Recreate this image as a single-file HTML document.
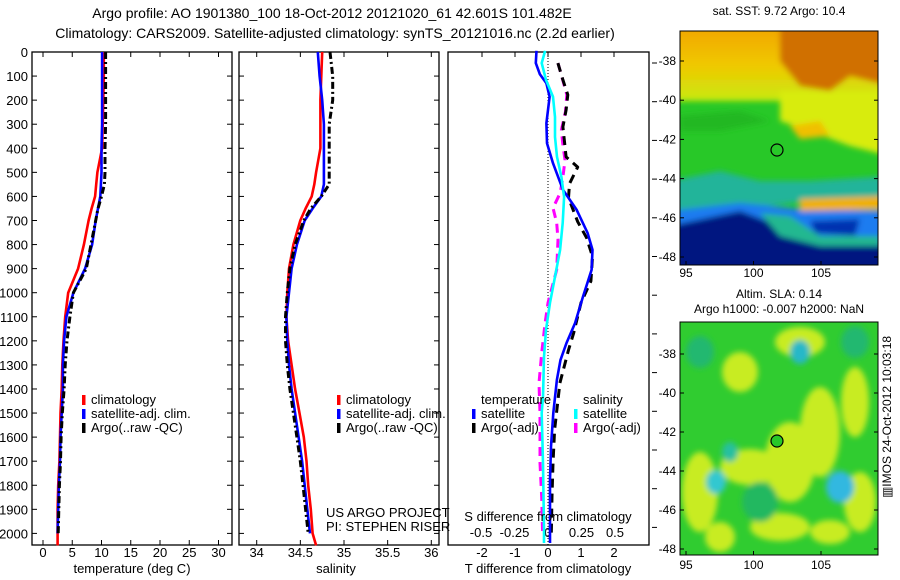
<!DOCTYPE html>
<html><head><meta charset="utf-8"><style>
html,body{margin:0;padding:0;background:#fff;}
svg{display:block;font-family:"Liberation Sans",sans-serif;}
text{font-size:13px;fill:#000;}
</style></head><body>
<svg id="fig" width="900" height="580" viewBox="0 0 900 580" xmlns="http://www.w3.org/2000/svg">
<text x="332" y="18" text-anchor="middle" style="font-size:14px">Argo profile: AO 1901380_100 18-Oct-2012 20121020_61 42.601S 101.482E</text>
<text x="335" y="38" text-anchor="middle" style="font-size:14px">Climatology: CARS2009. Satellite-adjusted climatology: synTS_20121016.nc (2.2d earlier)</text>
<g id="p1"></g>
<g id="p2"></g>
<g id="p3"></g>
<g id="maps">
 <text x="779" y="15" text-anchor="middle" style="font-size:12px">sat. SST: 9.72 Argo: 10.4</text>
 <svg x="680" y="31" width="198" height="234" viewBox="0 0 198 234">
  <defs>
   <filter id="bl" x="-10%" y="-10%" width="120%" height="120%"><feGaussianBlur stdDeviation="3"/></filter>
   <linearGradient id="topg" x1="0" y1="0" x2="0" y2="1"><stop offset="0" stop-color="#f2a000"/><stop offset="0.55" stop-color="#f0c800"/><stop offset="1" stop-color="#c8ea10"/></linearGradient>
  </defs>
  <rect width="198" height="234" fill="#28c828"/>
  <g filter="url(#bl)">
   <rect x="-10" y="-10" width="220" height="80" fill="url(#topg)"/>
   <path d="M100,-10 L210,-10 L210,55 L170,45 L150,60 L120,55 L100,30 Z" fill="#d07000"/>
   <path d="M100,60 L210,60 L210,125 L170,115 L130,100 L100,90 Z" fill="#d8ec10"/>
   <path d="M110,95 L140,90 L150,105 L120,108 Z" fill="#f0c000"/>
   <path d="M0,85 L60,80 L90,90 L40,100 L0,100 Z" fill="#22b820"/>
   <path d="M-10,150 L40,140 L80,150 L130,150 L210,145 L210,172 L130,170 L60,178 L-10,190 Z" fill="#20b49a"/>
   <path d="M-10,180 L60,172 L120,178 L210,180 L210,234 L-10,234 Z" fill="#1c7cf0"/>
   <path d="M120,168 L210,165 L210,178 L120,180 Z" fill="#f0b000"/>
   <path d="M-10,195 L60,180 L100,195 L120,210 L210,215 L210,244 L-10,244 Z" fill="#001480"/>
   <path d="M80,182 L110,185 L140,205 L200,205 L200,215 L140,215 L100,205 Z" fill="#22b890"/>
   <path d="M130,190 L180,188 L175,205 L135,202 Z" fill="#0030b0"/>
  </g>
  <circle cx="97" cy="119" r="6" fill="#28c828" stroke="#000" stroke-width="1.2"/>
 </svg>
 <rect x="680" y="31" width="198" height="234" fill="none" stroke="#000"/>
 <text x="779" y="298" text-anchor="middle" style="font-size:12px">Altim. SLA: 0.14</text>
 <text x="779" y="313" text-anchor="middle" style="font-size:12px">Argo h1000: -0.007 h2000: NaN</text>
 <svg x="680" y="322" width="198" height="233" viewBox="0 0 198 233">
  <rect width="198" height="233" fill="#30cc30"/>
  <g filter="url(#bl)" fill="#c8ec20">
   <ellipse cx="20" cy="170" rx="18" ry="40"/><ellipse cx="70" cy="145" rx="30" ry="18"/>
   <ellipse cx="110" cy="140" rx="25" ry="40"/><ellipse cx="140" cy="110" rx="20" ry="45"/>
   <ellipse cx="175" cy="80" rx="14" ry="35"/><ellipse cx="180" cy="180" rx="16" ry="30"/>
   <ellipse cx="60" cy="50" rx="18" ry="20"/><ellipse cx="120" cy="20" rx="25" ry="15"/>
   <ellipse cx="100" cy="205" rx="30" ry="14"/><ellipse cx="40" cy="215" rx="15" ry="15"/>
   <ellipse cx="150" cy="210" rx="20" ry="12"/>
   <ellipse cx="80" cy="180" rx="18" ry="20" fill="#22b860"/>
   <ellipse cx="120" cy="30" rx="10" ry="12" fill="#28b8c8"/>
   <ellipse cx="50" cy="130" rx="8" ry="10" fill="#28c0a0"/>
   <ellipse cx="36" cy="160" rx="10" ry="12" fill="#30c8d0"/>
   <ellipse cx="160" cy="165" rx="14" ry="16" fill="#30b8e0"/>
   <ellipse cx="175" cy="20" rx="14" ry="16" fill="#22b870"/>
   <ellipse cx="20" cy="30" rx="14" ry="16" fill="#22b870"/>
  </g>
  <circle cx="97" cy="119" r="6" fill="#28c828" stroke="#000" stroke-width="1.2"/>
 </svg>
 <rect x="680" y="322" width="198" height="233" fill="none" stroke="#000"/>
 <text transform="translate(891,417) rotate(-90)" text-anchor="middle" style="font-size:12px">▥IMOS 24-Oct-2012 10:03:18</text>
</g>
</svg>
<script>
// ----- data -----
const depthGrid = [0,100,200,300,400,500,550,600,650,700,800,900,1000,1100,1200,1300,1400,1500,1600,1700,1800,1900,2000,2050];
const climT = [10.4,10.4,10.3,10.2,10.1,9.3,9.1,8.9,8.3,7.8,7.0,6.0,4.3,3.8,3.5,3.3,3.2,3.0,2.9,2.8,2.6,2.5,2.5,2.5];
const satT  = [10.1,10.1,10.1,10.1,10.0,10.0,9.9,9.8,9.4,9.0,8.4,7.2,5.2,4.0,3.6,3.4,3.4,3.2,3.0,2.9,2.7,2.6,2.5,2.5];
const argoT = [10.7,10.7,10.7,10.7,10.6,10.6,10.5,10.0,9.4,9.0,8.2,7.4,5.2,4.6,4.1,3.8,3.6,3.3,3.1,3.0,2.8,2.7,2.6,2.6];
const climS = [34.75,34.74,34.73,34.73,34.73,34.68,34.66,34.63,34.56,34.50,34.42,34.37,34.35,34.34,34.36,34.40,34.44,34.49,34.54,34.57,34.59,34.62,34.64,34.68];
const satS  = [34.70,34.72,34.75,34.77,34.77,34.77,34.77,34.74,34.64,34.55,34.46,34.40,34.37,34.34,34.35,34.37,34.40,34.44,34.48,34.52,34.55,34.58,34.61,34.62];
const argoS = [34.84,34.87,34.87,34.83,34.83,34.83,34.83,34.74,34.62,34.54,34.44,34.38,34.35,34.33,34.33,34.35,34.38,34.42,34.46,34.50,34.53,34.56,34.59,34.61];
const dTsatDepth = [-5,46,92,130,186,296,379,462,572,656,752,822,905,1016,1126,1209,1279,1362,1500,1640,1777,1985,2040];
const dTsat = [-0.35,-0.37,-0.25,-0.05,0.05,-0.05,-0.03,0.15,0.45,0.87,1.2,1.35,1.32,1.06,0.82,0.56,0.38,0.27,0.16,0.09,0.06,0.06,0.06];
const dTargoDepth = [46,116,178,241,311,436,478,547,606,705,772,850,952,1042,1167,1238,1375,1570,1708,1845,2000];
const dTargo = [0.3,0.45,0.6,0.55,0.45,0.55,0.9,0.65,0.62,0.9,1.17,1.35,1.3,1.0,0.78,0.62,0.36,0.2,0.15,0.12,0.1];
const dSsatDepth = [-5,46,116,186,270,353,436,519,602,710,822,934,1042,1154,1266,1432,1500,1708,1985,2040];
const dSsat = [-0.022,-0.047,-0.015,0.037,0.052,0.052,0.067,0.1,0.12,0.11,0.09,0.052,0.015,-0.015,-0.03,-0.037,-0.047,-0.037,-0.03,-0.03];
const dSargoDepth = [46,116,178,249,324,379,449,527,586,648,710,780,905,1042,1126,1250,1375,1500,1708,1850,2000];
const dSargo = [0.075,0.11,0.14,0.13,0.1,0.11,0.127,0.11,0.09,0.037,0.065,0.075,0.065,0.0,-0.022,-0.047,-0.067,-0.06,-0.06,-0.047,-0.04];
const depthTicks = [0,100,200,300,400,500,600,700,800,900,1000,1100,1200,1300,1400,1500,1600,1700,1800,1900,2000];
const tempTicks = [0,5,10,15,20,25,30];
const salTicks = [34,34.5,35,35.5,36];
const salTickLabels = ["34","34.5","35","35.5","36"];
const dTTicks = [-2,-1,0,1,2];
const dSTicks = [-0.5,-0.25,0,0.25,0.5];
const dSTickLabels = ["-0.5","-0.25","0","0.25","0.5"];

// ----- scales -----
const TOP=52, BOT=545;
const yD = d => TOP + 0.2407*d;
const x1 = t => 43 + 5.85*t;
const x2 = s => 256.7 + 87.3*(s-34);
const x3 = t => 548 + 33*t;
const x3s = s => 548 + 134*s;
const NS="http://www.w3.org/2000/svg";
function mk(parent, tag, attrs, txt){
  const e=document.createElementNS(NS,tag);
  for(const k in attrs) e.setAttribute(k,attrs[k]);
  if(txt!==undefined) e.textContent=txt;
  parent.appendChild(e); return e;
}
function line(parent, xs, ds, xf, color, dash, name){
  let d=""; xs.forEach((v,i)=>{ d+=(i?"L":"M")+xf(v).toFixed(1)+","+yD(ds[i]).toFixed(1); });
  const p=mk(parent,"path",{d:d,fill:"none",stroke:color,"stroke-width":dash?3:2.6,"stroke-dasharray":dash||"none","stroke-linejoin":"round"});
  
  
  return p;
}
function frame(parent,l,r,name){
  const f=mk(parent,"rect",{x:l,y:TOP,width:r-l,height:BOT-TOP,fill:"none",stroke:"#000","stroke-width":1.3});
  
  
}
function xticks(parent,vals,labels,xf,y,name){
  vals.forEach((v,i)=>{
    mk(parent,"line",{x1:xf(v),x2:xf(v),y1:BOT,y2:BOT-5,stroke:"#000"});
    mk(parent,"line",{x1:xf(v),x2:xf(v),y1:TOP,y2:TOP+5,stroke:"#000"});
    const t=mk(parent,"text",{x:xf(v),y:y,"text-anchor":"middle"},labels[i]);
    
    
  });
}
function legendEntry(parent,x,y,color,label){
  mk(parent,"rect",{x:x,y:y-9,width:3.5,height:10,fill:color});
  const t=mk(parent,"text",{x:x+9,y:y},label);
  
  
}

// Panel 1
const p1=document.getElementById("p1");
frame(p1,32,232,"temperature-axes");
depthTicks.forEach(d=>{
  mk(p1,"line",{x1:32,x2:37,y1:yD(d),y2:yD(d),stroke:"#000"});
  mk(p1,"line",{x1:227,x2:232,y1:yD(d),y2:yD(d),stroke:"#000"});
  const t=mk(p1,"text",{x:28,y:yD(d)+5,"text-anchor":"end"},String(d));
  
  
});
xticks(p1,tempTicks,tempTicks.map(String),x1,557,"temperature-tick-label");
line(p1,climT,depthGrid,x1,"#ff0000",null,"temperature-climatology-line");
line(p1,satT.slice(0,23),depthGrid.slice(0,23),x1,"#0000ff",null,"temperature-satellite-line");
line(p1,argoT.slice(0,23),depthGrid.slice(0,23),x1,"#000","7,3,2,3","temperature-argo-line");
legendEntry(p1,82,404,"#ff0000","climatology");
legendEntry(p1,82,418,"#0000ff","satellite-adj. clim.");
legendEntry(p1,82,432,"#000","Argo(..raw -QC)");
mk(p1,"text",{x:132,y:573,"text-anchor":"middle",},"temperature (deg C)");

// Panel 2
const p2=document.getElementById("p2");
frame(p2,239,439,"salinity-axes");
depthTicks.forEach(d=>{
  mk(p2,"line",{x1:239,x2:244,y1:yD(d),y2:yD(d),stroke:"#000"});
  mk(p2,"line",{x1:434,x2:439,y1:yD(d),y2:yD(d),stroke:"#000"});
});
xticks(p2,salTicks,salTickLabels,x2,557,"salinity-tick-label");
line(p2,climS,depthGrid,x2,"#ff0000",null,"salinity-climatology-line");
line(p2,satS.slice(0,23),depthGrid.slice(0,23),x2,"#0000ff",null,"salinity-satellite-line");
line(p2,argoS.slice(0,23),depthGrid.slice(0,23),x2,"#000","7,3,2,3","salinity-argo-line");
legendEntry(p2,337,404,"#ff0000","climatology");
legendEntry(p2,337,418,"#0000ff","satellite-adj. clim.");
legendEntry(p2,337,432,"#000","Argo(..raw -QC)");
mk(p2,"text",{x:326,y:517,},"US ARGO PROJECT");
mk(p2,"text",{x:326,y:531,},"PI: STEPHEN RISER");
mk(p2,"text",{x:336,y:573,"text-anchor":"middle",},"salinity");

// Panel 3
const p3=document.getElementById("p3");
frame(p3,448,649,"difference-axes");
for(let k=0;k<13;k++){ const y=63+38.7*k; if(y<BOT) mk(p3,"line",{x1:652,x2:657,y1:y,y2:y,stroke:"#000"}); }
dTTicks.forEach(v=>{
  mk(p3,"line",{x1:x3(v),x2:x3(v),y1:TOP,y2:TOP+5,stroke:"#000"});
  const t=mk(p3,"text",{x:x3(v),y:557,"text-anchor":"middle"},String(v));
  
  
});
dSTicks.forEach((v,i)=>{
  const t=mk(p3,"text",{x:x3s(v),y:537,"text-anchor":"middle"},dSTickLabels[i]);
  
  
});
mk(p3,"line",{x1:x3(0),x2:x3(0),y1:TOP,y2:BOT,stroke:"#000","stroke-dasharray":"1,2",});
line(p3,dSargo,dSargoDepth,x3s,"#ff00ff","9,6","salinity-argo-diff-line");
line(p3,dTargo,dTargoDepth,x3,"#000","9,6","temperature-argo-diff-line");
line(p3,dTsat,dTsatDepth,x3,"#0000ff",null,"temperature-satellite-diff-line");
line(p3,dSsat,dSsatDepth,x3s,"#00ffff",null,"salinity-satellite-diff-line");
mk(p3,"text",{x:481,y:404,},"temperature");
legendEntry(p3,472,418,"#0000ff","satellite");
legendEntry(p3,472,432,"#000","Argo(-adj)");
mk(p3,"text",{x:583,y:404,},"salinity");
legendEntry(p3,574,418,"#00ffff","satellite");
legendEntry(p3,574,432,"#ff00ff","Argo(-adj)");
mk(p3,"text",{x:548,y:521,"text-anchor":"middle",},"S difference from climatology");
mk(p3,"text",{x:548,y:573,"text-anchor":"middle",},"T difference from climatology");

// Map axes
const maps=document.getElementById("maps");
const lonX = lon => 686 + 13.5*(lon-95);
const lonTicks=[95,100,105];
const latTicks=[-38,-40,-42,-44,-46,-48];
[[31,265,61,19.6,277],[322,555,354,39.0/2,569]].forEach((m,mi)=>{
  lonTicks.forEach(l=>{
    mk(maps,"line",{x1:lonX(l),x2:lonX(l),y1:m[1],y2:m[1]-4,stroke:"#000"});
    const t=mk(maps,"text",{x:lonX(l),y:m[4],"text-anchor":"middle",style:"font-size:12px"},String(l));
    
    
  });
  latTicks.forEach(l=>{
    const y=m[2]+m[3]*(-38-l);
    mk(maps,"line",{x1:680,x2:684,y1:y,y2:y,stroke:"#000"});
    mk(maps,"line",{x1:874,x2:878,y1:y,y2:y,stroke:"#000"});
    const t=mk(maps,"text",{x:676,y:y+4,"text-anchor":"end",style:"font-size:12px"},String(l));
    
    
  });
});
</script>
</body></html>
